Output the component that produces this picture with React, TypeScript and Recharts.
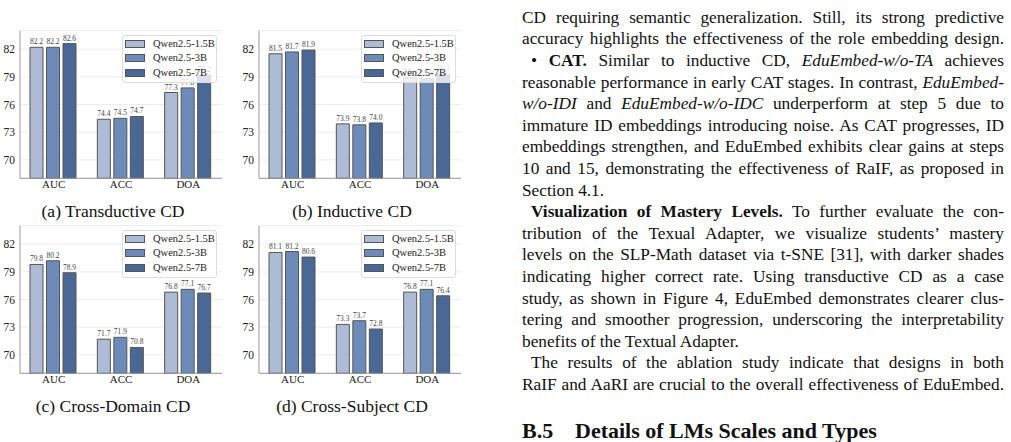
import React from 'react';
import { BarChart, Bar, XAxis, YAxis, CartesianGrid, Legend, LabelList } from 'recharts';

// Categories, series and axis ticks
const metrics = ['AUC', 'ACC', 'DOA'];
const models = ['Qwen2.5-1.5B', 'Qwen2.5-3B', 'Qwen2.5-7B'];
const yTicks = [70, 73, 76, 79, 82];
const yDomain: [number, number] = [68, 84];

const transductive15B = [82.2, 74.4, 77.3];
const transductive3B = [82.2, 74.5, 77.8];
const transductive7B = [82.6, 74.7, 79.2];

const inductive15B = [81.5, 73.9, 78.9];
const inductive3B = [81.7, 73.8, 78.8];
const inductive7B = [81.9, 74.0, 79.3];

const crossDomain15B = [79.8, 71.7, 76.8];
const crossDomain3B = [80.2, 71.9, 77.1];
const crossDomain7B = [78.9, 70.8, 76.7];

const crossSubject15B = [81.1, 73.3, 76.8];
const crossSubject3B = [81.2, 73.7, 77.1];
const crossSubject7B = [80.6, 72.8, 76.4];

const captions = ['(a) Transductive CD', '(b) Inductive CD', '(c) Cross-Domain CD', '(d) Cross-Subject CD'];

const barColors = ['#aebbd7', '#6c8bb9', '#4a6896'];
const serif = 'Liberation Serif, DejaVu Serif, serif';

type Row = { metric: string; m0: number; m1: number; m2: number };

const buildRows = (a: number[], b: number[], c: number[]): Row[] =>
  metrics.map((metric, i) => ({ metric, m0: a[i], m1: b[i], m2: c[i] }));

const LegendBox = () => (
  <div
    style={{
      width: 95,
      height: 48,
      boxSizing: 'border-box',
      background: 'rgba(255,255,255,0.8)',
      border: '1px solid #dcdcdc',
      borderRadius: 3,
      padding: '1px 2px',
    }}
  >
    {models.map((m, i) => (
      <div key={m} style={{ display: 'flex', alignItems: 'center', height: 14.3 }}>
        <span
          style={{
            display: 'inline-block',
            flex: 'none',
            width: 20,
            height: 8,
            boxSizing: 'border-box',
            background: barColors[i],
            border: '1px solid #555',
            marginRight: 8,
          }}
        />
        <span style={{ fontFamily: serif, fontSize: 10.5, color: '#222', lineHeight: '12px', whiteSpace: 'nowrap' }}>
          {m}
        </span>
      </div>
    ))}
  </div>
);

function Panel({ rows, left, top, caption }: { rows: Row[]; left: number; top: number; caption: string }) {
  const tickStyle = { fontSize: 11, fill: '#222', fontFamily: serif };
  return (
    <div style={{ position: 'absolute', left, top, width: 240, height: 230 }}>
      <BarChart
        width={240}
        height={200}
        data={rows}
        margin={{ top: 30.7, right: 18, bottom: 1.7, left: 0 }}
        barCategoryGap={10}
        barGap={3.5}
        style={{ fontFamily: serif }}
      >
        <CartesianGrid vertical={false} stroke="#ececec" strokeWidth={1} />
        <XAxis
          dataKey="metric"
          height={20}
          interval={0}
          tickLine={false}
          tickSize={0}
          tickMargin={2}
          axisLine={{ stroke: '#9a9a9a' }}
          tick={tickStyle}
        />
        <XAxis
          xAxisId="frameTop"
          dataKey="metric"
          orientation="top"
          height={0}
          tick={false}
          tickLine={false}
          axisLine={{ stroke: '#9a9a9a' }}
        />
        <YAxis
          domain={yDomain}
          ticks={yTicks}
          width={20}
          tickLine={false}
          tickSize={3}
          tickMargin={2}
          axisLine={{ stroke: '#9a9a9a' }}
          tick={{ ...tickStyle, fontSize: 11.5 }}
        />
        <YAxis
          yAxisId="frameRight"
          orientation="right"
          domain={yDomain}
          width={0}
          tick={false}
          tickLine={false}
          axisLine={{ stroke: '#9a9a9a' }}
        />
        {(['m0', 'm1', 'm2'] as const).map((key, i) => (
          <Bar
            key={key}
            dataKey={key}
            name={models[i]}
            fill={barColors[i]}
            stroke="#555"
            strokeWidth={1}
            isAnimationActive={false}
          >
            <LabelList
              dataKey={key}
              position="top"
              offset={3}
              formatter={(v: number) => v.toFixed(1)}
              style={{ fontSize: 7.5, fill: '#444', fontFamily: serif }}
            />
          </Bar>
        ))}
        <Legend
          layout="vertical"
          align="center"
          verticalAlign="middle"
          content={() => <LegendBox />}
          wrapperStyle={{ left: 122, top: 35, width: 95, height: 48 }}
        />
      </BarChart>
      <div
        style={{
          position: 'absolute',
          left: 113 - 120,
          width: 240,
          top: 200,
          textAlign: 'center',
          fontFamily: serif,
          fontSize: 17.5,
          color: '#111',
          lineHeight: '22px',
        }}
      >
        {caption}
      </div>
    </div>
  );
}

// Body text set beside the figure, one entry per printed line
type Seg = { t: string; b?: boolean; i?: boolean };
type Line = { segs: Seg[]; indent?: boolean; last?: boolean };

const bodyLines: Line[] = [
  { segs: [{ t: 'CD requiring semantic generalization. Still, its strong predictive' }] },
  { segs: [{ t: 'accuracy highlights the effectiveness of the role embedding design.' }] },
  {
    indent: true,
    segs: [
      { t: '• ' },
      { t: 'CAT.', b: true },
      { t: ' Similar to inductive CD, ' },
      { t: 'EduEmbed-w/o-TA', i: true },
      { t: ' achieves' },
    ],
  },
  { segs: [{ t: 'reasonable performance in early CAT stages. In contrast, ' }, { t: 'EduEmbed-', i: true }] },
  {
    segs: [
      { t: 'w/o-IDI', i: true },
      { t: ' and ' },
      { t: 'EduEmbed-w/o-IDC', i: true },
      { t: ' underperform at step 5 due to' },
    ],
  },
  { segs: [{ t: 'immature ID embeddings introducing noise. As CAT progresses, ID' }] },
  { segs: [{ t: 'embeddings strengthen, and EduEmbed exhibits clear gains at steps' }] },
  { segs: [{ t: '10 and 15, demonstrating the effectiveness of RaIF, as proposed in' }] },
  { last: true, segs: [{ t: 'Section 4.1.' }] },
  {
    indent: true,
    segs: [{ t: 'Visualization of Mastery Levels.', b: true }, { t: ' To further evaluate the con-' }],
  },
  { segs: [{ t: 'tribution of the Texual Adapter, we visualize students’ mastery' }] },
  { segs: [{ t: 'levels on the SLP-Math dataset via t-SNE [31], with darker shades' }] },
  { segs: [{ t: 'indicating higher correct rate. Using transductive CD as a case' }] },
  { segs: [{ t: 'study, as shown in Figure 4, EduEmbed demonstrates clearer clus-' }] },
  { segs: [{ t: 'tering and smoother progression, underscoring the interpretability' }] },
  { last: true, segs: [{ t: 'benefits of the Textual Adapter.' }] },
  { indent: true, segs: [{ t: 'The results of the ablation study indicate that designs in both' }] },
  { segs: [{ t: 'RaIF and AaRI are crucial to the overall effectiveness of EduEmbed.' }] },
];

const BodyText = () => (
  <>
    {bodyLines.map((line, k) => (
      <div
        key={k}
        style={{
          position: 'absolute',
          left: 522,
          top: 17.5 + k * 21.6 - 10.8,
          width: 482,
          height: 21.6,
          boxSizing: 'border-box',
          paddingLeft: line.indent ? 9 : 0,
          fontFamily: serif,
          fontSize: 17.3,
          lineHeight: '21.6px',
          color: '#111',
          textAlign: line.last ? 'left' : 'justify',
          textAlignLast: line.last ? 'left' : 'justify',
        }}
      >
        {line.segs.map((s, j) => (
          <span key={j} style={{ fontWeight: s.b ? 700 : 400, fontStyle: s.i ? 'italic' : 'normal' }}>
            {s.t}
          </span>
        ))}
      </div>
    ))}
    <div
      style={{
        position: 'absolute',
        left: 522,
        top: 431 - 13,
        height: 26,
        fontFamily: serif,
        fontSize: 22,
        fontWeight: 700,
        lineHeight: '26px',
        color: '#111',
        whiteSpace: 'nowrap',
      }}
    >
      <span>B.5</span>
      <span style={{ position: 'absolute', left: 53 }}>Details of LMs Scales and Types</span>
    </div>
  </>
);

export default function App() {
  const panels = [
    { rows: buildRows(transductive15B, transductive3B, transductive7B), left: 0, top: 0 },
    { rows: buildRows(inductive15B, inductive3B, inductive7B), left: 239, top: 0 },
    { rows: buildRows(crossDomain15B, crossDomain3B, crossDomain7B), left: 0, top: 195 },
    { rows: buildRows(crossSubject15B, crossSubject3B, crossSubject7B), left: 239, top: 195 },
  ];
  return (
    <div
      style={{
        position: 'absolute',
        left: 0,
        top: 0,
        width: 1011,
        height: 442,
        overflow: 'hidden',
        background: '#fff',
      }}
    >
      {panels.map((p, i) => (
        <Panel key={i} rows={p.rows} left={p.left} top={p.top} caption={captions[i]} />
      ))}
      <BodyText />
    </div>
  );
}
